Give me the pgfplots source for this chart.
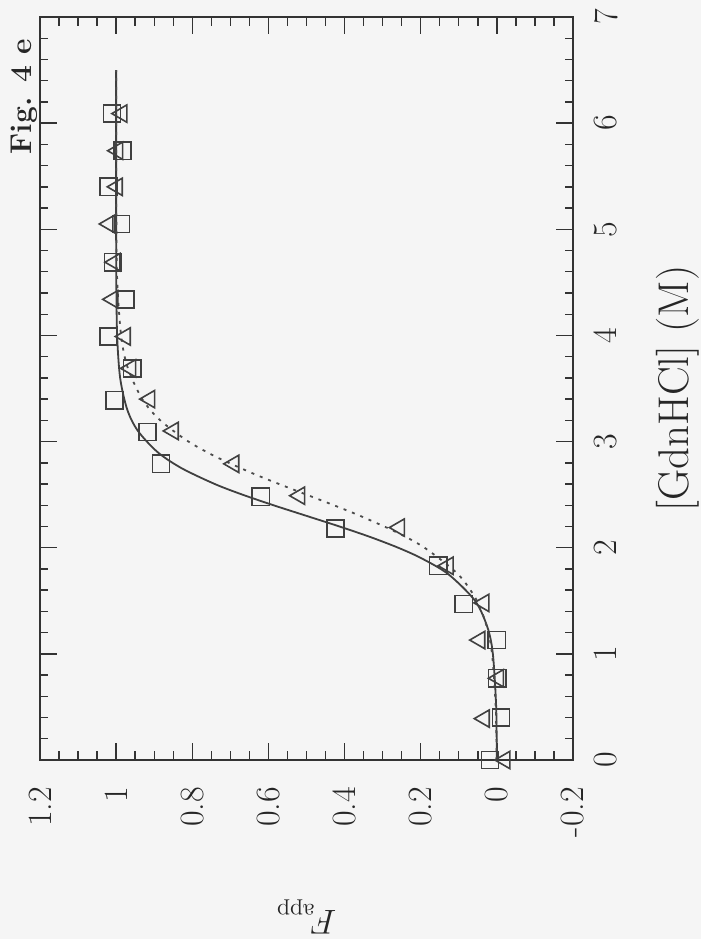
\documentclass[border=0pt]{standalone}
\usepackage{graphicx}
\usepackage{xcolor}
\usepackage{pgfplots}
\pgfplotsset{compat=1.18}
\pagecolor{black!4}

% squares and their fit (solid)
\pgfplotstableread{
x     F
0.00  0.018
0.40 -0.011
0.77 -0.001
1.13  0.000
1.47  0.087
1.83  0.154
2.18  0.424
2.48  0.620
2.79  0.882
3.09  0.918
3.39  1.004
3.69  0.958
3.99  1.020
4.34  0.975
4.69  1.008
5.05  0.987
5.40  1.020
5.74  0.983
6.09  1.011
}\squares

\pgfplotstableread{
x     F
0.00 -0.021
0.39  0.033
0.77 -0.004
1.13  0.045
1.48  0.034
1.83  0.128
2.19  0.256
2.49  0.518
2.79  0.691
3.10  0.850
3.40  0.912
3.69  0.962
3.99  0.976
4.34  1.009
4.69  1.003
5.05  1.018
5.40  0.997
5.74  0.996
6.09  0.985
}\triangles

\pgfplotstableread{
x     F
0.00  0.0003
0.50  0.0018
1.00  0.0105
1.25  0.0247
1.50  0.0573
1.75  0.1273
1.90  0.1978
2.00  0.2592
2.10  0.3318
2.20  0.4134
2.30  0.5000
2.40  0.5866
2.50  0.6682
2.60  0.7408
2.75  0.8285
2.90  0.8909
3.10  0.9427
3.30  0.9707
3.60  0.9895
4.00  0.9974
4.50  0.9995
5.00  1.0000
6.50  1.0000
}\fitsq

\pgfplotstableread{
x     F
0.00  0.0007
0.50  0.0030
1.00  0.0127
1.25  0.0260
1.50  0.0522
1.75  0.1020
2.00  0.1900
2.15  0.2660
2.30  0.3590
2.40  0.4280
2.50  0.5000
2.60  0.5720
2.70  0.6410
2.85  0.7340
3.00  0.8100
3.20  0.8840
3.40  0.9315
3.70  0.9700
4.00  0.9870
4.50  0.9970
5.00  0.9993
6.50  1.0000
}\fittr

\begin{document}
\rotatebox{90}{%
\begin{tikzpicture}
\begin{axis}[
    name=ax,
    scale only axis,
    width=371.5pt, height=266.5pt,
    xmin=0, xmax=7, ymin=-0.2, ymax=1.2,
    xtick={0,1,2,3,4,5,6,7},
    ytick={-0.2,0,0.2,0.4,0.6,0.8,1,1.2},
    minor x tick num=4, minor y tick num=3,
    tick align=inside, tick pos=both,
    major tick length=8.5pt, minor tick length=4.25pt,
    axis line style={black!80, line width=0.8pt},
    every tick/.style={black!80, line width=0.7pt},
    /pgf/number format/assume math mode=true,
    tick label style={font=\fontsize{17}{20}\selectfont, text=black!85},
    xticklabel style={yshift=-7pt},
    yticklabel style={xshift=-10pt},
    xlabel={[GdnHCl] (M)},
    xlabel style={at={(axis description cs:0.5,0)}, anchor=center,
        yshift=-52.5pt, font=\fontsize{21.5}{25}\selectfont, text=black!85},
    ylabel={$F_{\mathrm{app}}$},
    ylabel style={at={(axis description cs:0,0.5)}, anchor=center,
        yshift=78.5pt, font=\fontsize{18}{21}\selectfont, text=black!85},
]
\addplot[black!75, line width=0.9pt, smooth] table[x=x, y=F] {\fitsq};
\addplot[black!70, line width=0.9pt, smooth, dash pattern=on 1.5pt off 3pt] table[x=x, y=F] {\fittr};
\addplot[only marks, mark=square, mark size=4.3pt,
    mark options={black!75, line width=0.8pt}] table[x=x, y=F] {\squares};
\addplot[only marks, mark=triangle, mark size=5pt,
    mark options={black!75, line width=0.8pt}] table[x=x, y=F] {\triangles};
\end{axis}
\node[anchor=east, font=\bfseries\fontsize{15}{18}\selectfont, text=black!85]
    at ([xshift=-7.5pt, yshift=8pt]ax.north east) {Fig. 4 e};
\pgfresetboundingbox
\path[use as bounding box] ([xshift=-89.5pt, yshift=-64pt]ax.south west)
    rectangle ([xshift=8.5pt, yshift=20pt]ax.north east);
\end{tikzpicture}}
\end{document}
